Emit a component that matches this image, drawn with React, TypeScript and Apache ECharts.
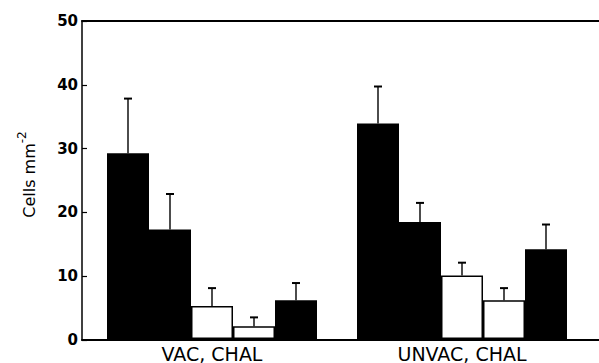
import React, { useEffect, useRef } from "react";
import * as echarts from "echarts";

const categories = ["VAC, CHAL", "UNVAC, CHAL"];
const yTicks = [0, 10, 20, 30, 40, 50];

// bar heights (Cells mm^-2) for the five bars in each group
const bar1 = [29.2, 33.9];
const bar2 = [17.2, 18.4];
const bar3 = [5.2, 10.0];
const bar4 = [2.0, 6.1];
const bar5 = [6.1, 14.1];

// error bar lengths (upper side only)
const err1 = [8.6, 5.8];
const err2 = [5.6, 3.0];
const err3 = [2.8, 2.0];
const err4 = [1.4, 1.9];
const err5 = [2.7, 3.9];

const barSets = [bar1, bar2, bar3, bar4, bar5];
const errSets = [err1, err2, err3, err4, err5];
const fills = ["#000", "#000", "#fff", "#fff", "#000"];

const BAR_W = 42;

export default function App() {
  const ref = useRef<HTMLDivElement>(null);
  useEffect(() => {
    document.body.style.margin = "0";
    const chart = echarts.init(ref.current!, null, { renderer: "svg" });
    const barSeries: any[] = barSets.map((vals, i) => ({
      type: "bar",
      xAxisIndex: 2,
      yAxisIndex: 1,
      barWidth: BAR_W,
      barGap: "0%",
      data: vals,
      itemStyle: {
        color: fills[i],
        borderColor: "#000",
        borderWidth: fills[i] === "#fff" ? 1.5 : 0,
      },
      z: 2,
    }));
    const errSeries: any[] = barSets.map((vals, i) => ({
      type: "custom",
      xAxisIndex: 2,
      yAxisIndex: 1,
      z: 3,
      data: vals.map((v, c) => [c, v, errSets[i][c]]),
      encode: { x: 0, y: 1 },
      renderItem: (params: any, api: any) => {
        const c = api.value(0);
        const v = api.value(1);
        const e = api.value(2);
        const off = (i - 2) * BAR_W;
        const x = api.coord([c, v])[0] + off;
        const yb = api.coord([c, v])[1];
        const yt = api.coord([c, v + e])[1];
        return {
          type: "group",
          children: [
            {
              type: "line",
              shape: { x1: x, y1: yb, x2: x, y2: yt },
              style: { stroke: "#000", lineWidth: 1.4 },
            },
            {
              type: "line",
              shape: { x1: x - 4, y1: yt, x2: x + 4, y2: yt },
              style: { stroke: "#000", lineWidth: 2 },
            },
          ],
        };
      },
    }));
    chart.setOption({
      animation: false,
      backgroundColor: "#fff",
      grid: [
        { left: 82, right: 0, top: 21, bottom: 23 },
        { left: 87, right: 12, top: 21, bottom: 23 },
      ],
      xAxis: [
        {
          gridIndex: 0,
          type: "value",
          min: 0,
          max: 1,
          position: "bottom",
          axisLine: { show: true, onZero: false, lineStyle: { color: "#000", width: 2 } },
          axisTick: { show: false },
          axisLabel: { show: false },
          splitLine: { show: false },
        },
        {
          gridIndex: 0,
          type: "value",
          min: 0,
          max: 1,
          position: "top",
          axisLine: { show: true, onZero: false, lineStyle: { color: "#000", width: 2 } },
          axisTick: { show: false },
          axisLabel: { show: false },
          splitLine: { show: false },
        },
        {
          gridIndex: 1,
          type: "category",
          data: categories,
          axisLine: { show: false },
          axisTick: { show: false },
          axisLabel: {
            margin: 7,
            fontSize: 19,
            lineHeight: 15,
            fontFamily: "DejaVu Sans",
            color: "#000",
          },
        },
      ],
      yAxis: [
        {
          gridIndex: 0,
          type: "value",
          min: yTicks[0],
          max: yTicks[yTicks.length - 1],
          interval: 10,
          axisLine: { show: true, onZero: false, lineStyle: { color: "#000", width: 1.5 } },
          axisTick: { show: true, inside: true, length: 5, lineStyle: { color: "#000", width: 1.2 } },
          axisLabel: {
            margin: 4,
            fontSize: 15,
            fontWeight: "bold",
            fontFamily: "DejaVu Sans",
            color: "#000",
          },
          splitLine: { show: false },
          name: "{a|Cells mm}{b|-2}",
          nameLocation: "middle",
          nameGap: 40,
          nameTextStyle: {
            padding: [0, 0, 0, 12],
            rich: {
              a: { fontSize: 16, fontFamily: "DejaVu Sans", color: "#000" },
              b: {
                fontSize: 12,
                fontFamily: "DejaVu Sans",
                color: "#000",
                padding: [0, 0, 14, 0],
              },
            },
          },
        },
        {
          gridIndex: 1,
          type: "value",
          min: 0,
          max: 50,
          show: false,
        },
      ],
      series: [...barSeries, ...errSeries],
    });
    return () => chart.dispose();
  }, []);
  return <div ref={ref} style={{ width: 599, height: 363 }} />;
}
